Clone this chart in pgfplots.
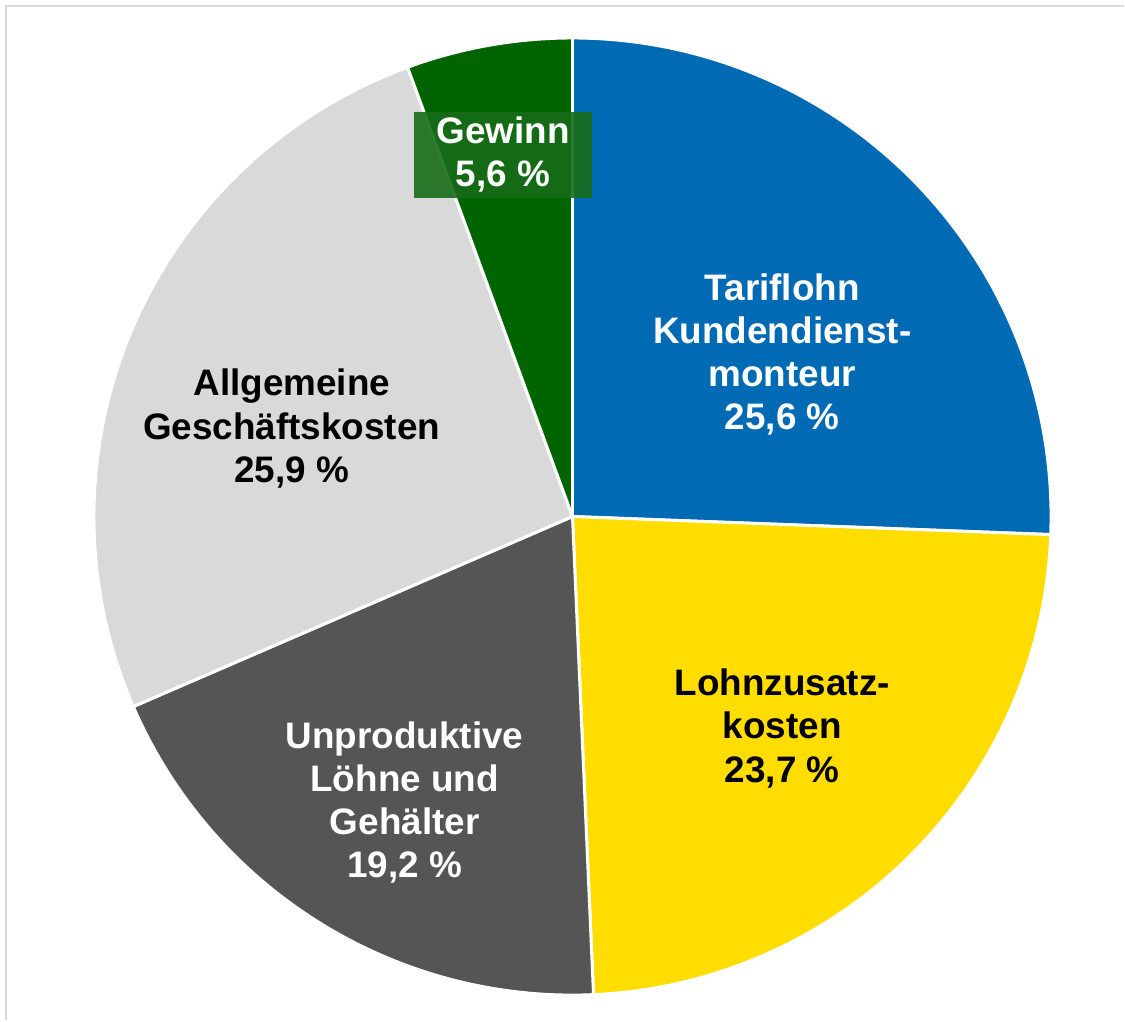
\documentclass[border=0pt]{standalone}
\usepackage{fontspec}
\setmainfont{Liberation Sans}
\usepackage{pgfplots}
\pgfplotsset{compat=1.18}
\definecolor{cBlue}{RGB}{0,106,180}
\definecolor{cYellow}{RGB}{255,221,0}
\definecolor{cDark}{RGB}{85,85,85}
\definecolor{cLight}{RGB}{217,217,217}
\definecolor{cGreen}{RGB}{0,100,0}
\definecolor{cBox}{RGB}{24,108,24}
\definecolor{cFrame}{RGB}{217,217,217}
\tikzset{lbl/.style={font=\fontsize{10.5}{12.3}\selectfont\bfseries, align=center}}
% values (percent), clockwise from top
\def\vA{25.6} % Tariflohn
\def\vB{23.7} % Lohnzusatzkosten
\def\vC{19.2} % Unproduktive Loehne
\def\vD{25.9} % Allgemeine Geschaeftskosten
\def\vE{5.6}  % Gewinn
\pgfmathsetmacro\aO{90}
\pgfmathsetmacro\aA{\aO-3.6*\vA}
\pgfmathsetmacro\aB{\aA-3.6*\vB}
\pgfmathsetmacro\aC{\aB-3.6*\vC}
\pgfmathsetmacro\aD{\aC-3.6*\vD}
\pgfmathsetmacro\aE{\aD-3.6*\vE}
\def\cx{573}\def\cy{504}\def\R{479}
\begin{document}
\begin{tikzpicture}
\begin{axis}[
  scale only axis, width=11.25cm, height=10.21cm,
  xmin=0, xmax=1125, ymin=0, ymax=1021,
  hide axis, clip=false,
  every axis plot/.append style={draw=white, line width=0.85pt, line join=round},
]
\addplot[draw=none, fill=none, forget plot] coordinates {(0,0) (1125,1021)};
\draw[cFrame, line width=0.2mm] (axis cs:6.5,0) -- (axis cs:6.5,1014.5) -- (axis cs:1125,1014.5);
\addplot[fill=cBlue, domain=\aA:\aO, samples=120, variable=\t] ({\cx+\R*cos(\t)},{\cy+\R*sin(\t)}) -- (axis cs:\cx,\cy) -- cycle;
\addplot[fill=cYellow, domain=\aB:\aA, samples=120, variable=\t] ({\cx+\R*cos(\t)},{\cy+\R*sin(\t)}) -- (axis cs:\cx,\cy) -- cycle;
\addplot[fill=cDark, domain=\aC:\aB, samples=120, variable=\t] ({\cx+\R*cos(\t)},{\cy+\R*sin(\t)}) -- (axis cs:\cx,\cy) -- cycle;
\addplot[fill=cLight, domain=\aD:\aC, samples=120, variable=\t] ({\cx+\R*cos(\t)},{\cy+\R*sin(\t)}) -- (axis cs:\cx,\cy) -- cycle;
\addplot[fill=cGreen, domain=\aE:\aD, samples=40, variable=\t] ({\cx+\R*cos(\t)},{\cy+\R*sin(\t)}) -- (axis cs:\cx,\cy) -- cycle;
\node[lbl, text=white] at (axis cs:783,666) {Tariflohn\\Kundendienst-\\monteur\\25,6 \%};
\node[lbl, text=black] at (axis cs:783,292) {Lohnzusatz-\\kosten\\23,7 \%};
\node[lbl, text=white] at (axis cs:405,218) {Unproduktive\\Löhne und\\Gehälter\\19,2 \%};
\node[lbl, text=black] at (axis cs:292,592) {Allgemeine\\Geschäftskosten\\25,9 \%};
\node[lbl, text=white, fill=cBox, fill opacity=0.9, text opacity=1, minimum width=17.9mm, minimum height=8.6mm, inner sep=0pt] at (axis cs:503.5,866) {Gewinn\\5,6 \%};
\end{axis}
\end{tikzpicture}
\end{document}
